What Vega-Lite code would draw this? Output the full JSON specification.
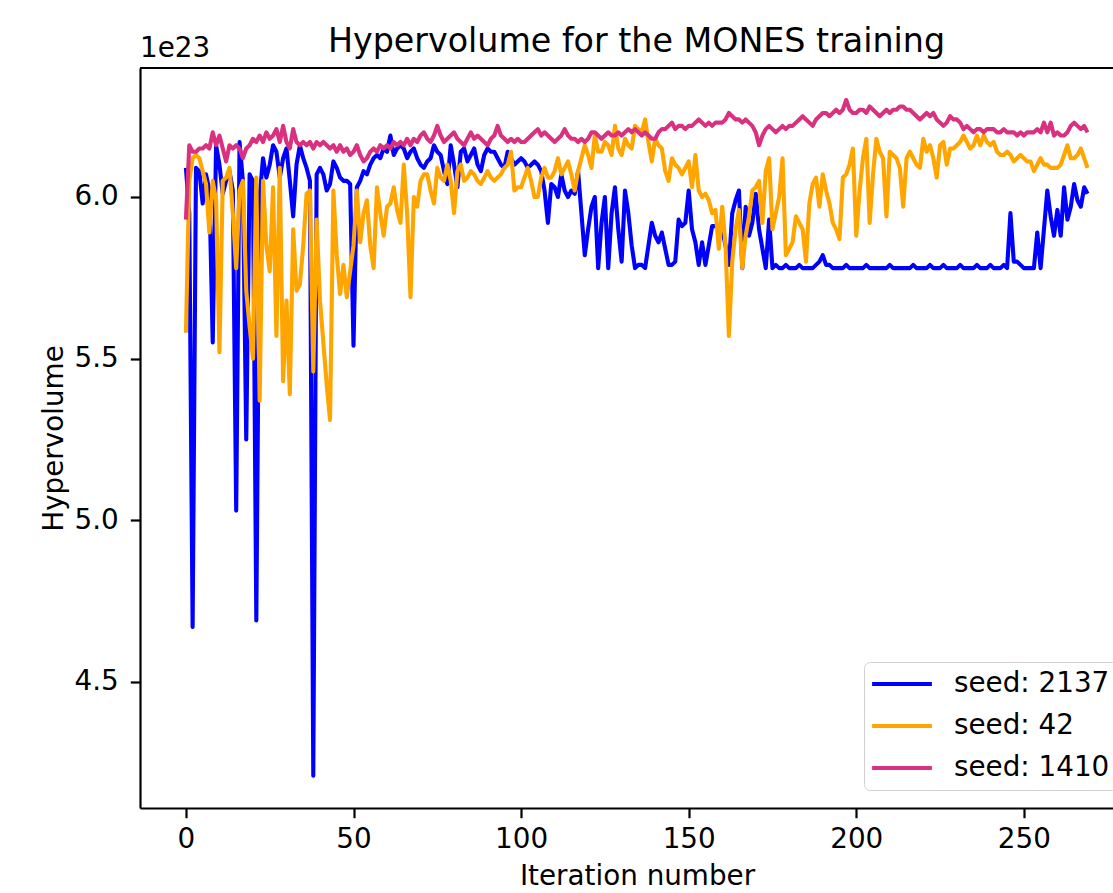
{
"$schema": "https://vega.github.io/schema/vega-lite/v6.json",
"width": 973, "height": 740,
"autosize": {"type": "none"},
"padding": {"left": 140, "top": 68, "right": 0, "bottom": 85},
"background": "white",
"config": {"view": {"stroke": null}, "font": "DejaVu Sans"},
"title": {"text": "Hypervolume for the MONES training", "font": "DejaVu Sans", "fontSize": 33.3, "fontWeight": "normal", "color": "black", "anchor": "middle", "frame": "group", "dx": 10, "dy": 66, "offset": 16, "baseline": "alphabetic"},
"datasets": {
"s2137": [{"iter":0,"hv":6.09},{"iter":1,"hv":5.95},{"iter":2,"hv":4.67},{"iter":3,"hv":6.09},{"iter":4,"hv":6.08},{"iter":5,"hv":5.98},{"iter":6,"hv":6.07},{"iter":7,"hv":6.02},{"iter":8,"hv":5.55},{"iter":9,"hv":6.16},{"iter":10,"hv":6.10},{"iter":11,"hv":6.01},{"iter":12,"hv":6.05},{"iter":13,"hv":6.08},{"iter":14,"hv":6.02},{"iter":15,"hv":5.03},{"iter":16,"hv":6.17},{"iter":17,"hv":6.05},{"iter":18,"hv":5.25},{"iter":19,"hv":6.07},{"iter":20,"hv":6.05},{"iter":21,"hv":4.69},{"iter":22,"hv":6.00},{"iter":23,"hv":6.12},{"iter":24,"hv":6.06},{"iter":25,"hv":6.10},{"iter":26,"hv":6.16},{"iter":27,"hv":6.14},{"iter":28,"hv":6.06},{"iter":29,"hv":6.12},{"iter":30,"hv":6.15},{"iter":31,"hv":6.05},{"iter":32,"hv":5.94},{"iter":33,"hv":6.10},{"iter":34,"hv":6.16},{"iter":35,"hv":6.12},{"iter":36,"hv":6.09},{"iter":37,"hv":6.05},{"iter":38,"hv":4.21},{"iter":39,"hv":6.07},{"iter":40,"hv":6.09},{"iter":41,"hv":6.07},{"iter":42,"hv":6.02},{"iter":43,"hv":6.04},{"iter":44,"hv":6.11},{"iter":45,"hv":6.09},{"iter":46,"hv":6.06},{"iter":47,"hv":6.05},{"iter":48,"hv":6.05},{"iter":49,"hv":6.04},{"iter":50,"hv":5.54},{"iter":51,"hv":6.03},{"iter":52,"hv":6.05},{"iter":53,"hv":6.08},{"iter":54,"hv":6.07},{"iter":55,"hv":6.10},{"iter":56,"hv":6.12},{"iter":57,"hv":6.13},{"iter":58,"hv":6.12},{"iter":59,"hv":6.15},{"iter":60,"hv":6.14},{"iter":61,"hv":6.19},{"iter":62,"hv":6.13},{"iter":63,"hv":6.15},{"iter":64,"hv":6.16},{"iter":65,"hv":6.15},{"iter":66,"hv":6.12},{"iter":67,"hv":6.14},{"iter":68,"hv":6.15},{"iter":69,"hv":6.12},{"iter":70,"hv":6.10},{"iter":71,"hv":6.09},{"iter":72,"hv":6.11},{"iter":73,"hv":6.12},{"iter":74,"hv":6.16},{"iter":75,"hv":6.14},{"iter":76,"hv":6.13},{"iter":77,"hv":6.08},{"iter":78,"hv":6.04},{"iter":79,"hv":6.16},{"iter":80,"hv":6.10},{"iter":81,"hv":6.03},{"iter":82,"hv":6.14},{"iter":83,"hv":6.15},{"iter":84,"hv":6.11},{"iter":85,"hv":6.13},{"iter":86,"hv":6.15},{"iter":87,"hv":6.10},{"iter":88,"hv":6.08},{"iter":89,"hv":6.13},{"iter":90,"hv":6.15},{"iter":91,"hv":6.14},{"iter":92,"hv":6.14},{"iter":93,"hv":6.12},{"iter":94,"hv":6.10},{"iter":95,"hv":6.09},{"iter":96,"hv":6.14},{"iter":97,"hv":6.12},{"iter":98,"hv":6.10},{"iter":99,"hv":6.11},{"iter":100,"hv":6.12},{"iter":101,"hv":6.11},{"iter":102,"hv":6.09},{"iter":103,"hv":6.10},{"iter":104,"hv":6.11},{"iter":105,"hv":6.10},{"iter":106,"hv":6.08},{"iter":107,"hv":6.02},{"iter":108,"hv":5.92},{"iter":109,"hv":6.04},{"iter":110,"hv":6.03},{"iter":111,"hv":6.00},{"iter":112,"hv":6.07},{"iter":113,"hv":6.02},{"iter":114,"hv":6.00},{"iter":115,"hv":6.02},{"iter":116,"hv":6.01},{"iter":117,"hv":6.08},{"iter":118,"hv":5.95},{"iter":119,"hv":5.82},{"iter":120,"hv":5.90},{"iter":121,"hv":5.97},{"iter":122,"hv":6.00},{"iter":123,"hv":5.78},{"iter":124,"hv":5.92},{"iter":125,"hv":6.00},{"iter":126,"hv":5.78},{"iter":127,"hv":5.95},{"iter":128,"hv":6.03},{"iter":129,"hv":5.90},{"iter":130,"hv":5.80},{"iter":131,"hv":6.02},{"iter":132,"hv":5.95},{"iter":133,"hv":5.85},{"iter":134,"hv":5.78},{"iter":135,"hv":5.79},{"iter":136,"hv":5.79},{"iter":137,"hv":5.78},{"iter":138,"hv":5.85},{"iter":139,"hv":5.92},{"iter":140,"hv":5.88},{"iter":141,"hv":5.86},{"iter":142,"hv":5.89},{"iter":143,"hv":5.84},{"iter":144,"hv":5.79},{"iter":145,"hv":5.79},{"iter":146,"hv":5.80},{"iter":147,"hv":5.93},{"iter":148,"hv":5.91},{"iter":149,"hv":5.92},{"iter":150,"hv":6.02},{"iter":151,"hv":5.90},{"iter":152,"hv":5.86},{"iter":153,"hv":5.79},{"iter":154,"hv":5.86},{"iter":155,"hv":5.79},{"iter":156,"hv":5.85},{"iter":157,"hv":5.91},{"iter":158,"hv":5.91},{"iter":159,"hv":5.91},{"iter":160,"hv":5.90},{"iter":161,"hv":5.85},{"iter":162,"hv":5.79},{"iter":163,"hv":5.95},{"iter":164,"hv":5.99},{"iter":165,"hv":6.02},{"iter":166,"hv":5.78},{"iter":167,"hv":5.97},{"iter":168,"hv":5.88},{"iter":169,"hv":5.92},{"iter":170,"hv":6.01},{"iter":171,"hv":5.90},{"iter":172,"hv":5.84},{"iter":173,"hv":5.78},{"iter":174,"hv":5.93},{"iter":175,"hv":5.78},{"iter":176,"hv":5.79},{"iter":177,"hv":5.78},{"iter":178,"hv":5.78},{"iter":179,"hv":5.79},{"iter":180,"hv":5.78},{"iter":181,"hv":5.78},{"iter":182,"hv":5.78},{"iter":183,"hv":5.79},{"iter":184,"hv":5.78},{"iter":185,"hv":5.78},{"iter":186,"hv":5.78},{"iter":187,"hv":5.78},{"iter":188,"hv":5.79},{"iter":189,"hv":5.80},{"iter":190,"hv":5.82},{"iter":191,"hv":5.79},{"iter":192,"hv":5.79},{"iter":193,"hv":5.78},{"iter":194,"hv":5.78},{"iter":195,"hv":5.78},{"iter":196,"hv":5.78},{"iter":197,"hv":5.79},{"iter":198,"hv":5.78},{"iter":199,"hv":5.78},{"iter":200,"hv":5.78},{"iter":201,"hv":5.78},{"iter":202,"hv":5.78},{"iter":203,"hv":5.79},{"iter":204,"hv":5.78},{"iter":205,"hv":5.78},{"iter":206,"hv":5.78},{"iter":207,"hv":5.78},{"iter":208,"hv":5.78},{"iter":209,"hv":5.78},{"iter":210,"hv":5.79},{"iter":211,"hv":5.78},{"iter":212,"hv":5.78},{"iter":213,"hv":5.78},{"iter":214,"hv":5.78},{"iter":215,"hv":5.78},{"iter":216,"hv":5.78},{"iter":217,"hv":5.79},{"iter":218,"hv":5.78},{"iter":219,"hv":5.78},{"iter":220,"hv":5.78},{"iter":221,"hv":5.78},{"iter":222,"hv":5.79},{"iter":223,"hv":5.78},{"iter":224,"hv":5.78},{"iter":225,"hv":5.78},{"iter":226,"hv":5.79},{"iter":227,"hv":5.78},{"iter":228,"hv":5.78},{"iter":229,"hv":5.78},{"iter":230,"hv":5.78},{"iter":231,"hv":5.79},{"iter":232,"hv":5.78},{"iter":233,"hv":5.78},{"iter":234,"hv":5.78},{"iter":235,"hv":5.78},{"iter":236,"hv":5.79},{"iter":237,"hv":5.78},{"iter":238,"hv":5.78},{"iter":239,"hv":5.78},{"iter":240,"hv":5.79},{"iter":241,"hv":5.78},{"iter":242,"hv":5.78},{"iter":243,"hv":5.78},{"iter":244,"hv":5.79},{"iter":245,"hv":5.78},{"iter":246,"hv":5.95},{"iter":247,"hv":5.80},{"iter":248,"hv":5.80},{"iter":249,"hv":5.79},{"iter":250,"hv":5.78},{"iter":251,"hv":5.78},{"iter":252,"hv":5.78},{"iter":253,"hv":5.78},{"iter":254,"hv":5.89},{"iter":255,"hv":5.78},{"iter":256,"hv":5.90},{"iter":257,"hv":6.02},{"iter":258,"hv":5.94},{"iter":259,"hv":5.88},{"iter":260,"hv":5.96},{"iter":261,"hv":5.88},{"iter":262,"hv":6.03},{"iter":263,"hv":5.93},{"iter":264,"hv":5.97},{"iter":265,"hv":6.04},{"iter":266,"hv":5.99},{"iter":267,"hv":5.97},{"iter":268,"hv":6.03},{"iter":269,"hv":6.01}],
"s42": [{"iter":0,"hv":5.58},{"iter":1,"hv":6.05},{"iter":2,"hv":6.12},{"iter":3,"hv":6.13},{"iter":4,"hv":6.12},{"iter":5,"hv":6.08},{"iter":6,"hv":6.04},{"iter":7,"hv":5.89},{"iter":8,"hv":6.05},{"iter":9,"hv":5.99},{"iter":10,"hv":5.52},{"iter":11,"hv":6.05},{"iter":12,"hv":6.06},{"iter":13,"hv":6.09},{"iter":14,"hv":5.95},{"iter":15,"hv":5.78},{"iter":16,"hv":6.02},{"iter":17,"hv":6.05},{"iter":18,"hv":5.71},{"iter":19,"hv":5.60},{"iter":20,"hv":5.50},{"iter":21,"hv":6.06},{"iter":22,"hv":5.37},{"iter":23,"hv":6.05},{"iter":24,"hv":5.85},{"iter":25,"hv":5.77},{"iter":26,"hv":6.03},{"iter":27,"hv":5.57},{"iter":28,"hv":6.09},{"iter":29,"hv":5.43},{"iter":30,"hv":5.68},{"iter":31,"hv":5.39},{"iter":32,"hv":5.90},{"iter":33,"hv":5.71},{"iter":34,"hv":5.73},{"iter":35,"hv":5.85},{"iter":36,"hv":6.01},{"iter":37,"hv":6.02},{"iter":38,"hv":5.46},{"iter":39,"hv":5.93},{"iter":40,"hv":5.68},{"iter":41,"hv":5.55},{"iter":42,"hv":5.42},{"iter":43,"hv":5.31},{"iter":44,"hv":6.02},{"iter":45,"hv":5.82},{"iter":46,"hv":5.70},{"iter":47,"hv":5.79},{"iter":48,"hv":5.69},{"iter":49,"hv":5.77},{"iter":50,"hv":5.85},{"iter":51,"hv":6.02},{"iter":52,"hv":5.86},{"iter":53,"hv":5.95},{"iter":54,"hv":5.99},{"iter":55,"hv":5.85},{"iter":56,"hv":5.78},{"iter":57,"hv":6.03},{"iter":58,"hv":5.95},{"iter":59,"hv":5.88},{"iter":60,"hv":5.97},{"iter":61,"hv":5.98},{"iter":62,"hv":6.03},{"iter":63,"hv":5.96},{"iter":64,"hv":5.92},{"iter":65,"hv":6.10},{"iter":66,"hv":5.95},{"iter":67,"hv":5.69},{"iter":68,"hv":6.00},{"iter":69,"hv":5.97},{"iter":70,"hv":6.05},{"iter":71,"hv":6.07},{"iter":72,"hv":6.07},{"iter":73,"hv":6.02},{"iter":74,"hv":5.98},{"iter":75,"hv":6.09},{"iter":76,"hv":6.06},{"iter":77,"hv":6.05},{"iter":78,"hv":6.10},{"iter":79,"hv":6.05},{"iter":80,"hv":5.95},{"iter":81,"hv":6.08},{"iter":82,"hv":6.10},{"iter":83,"hv":6.05},{"iter":84,"hv":6.06},{"iter":85,"hv":6.08},{"iter":86,"hv":6.07},{"iter":87,"hv":6.05},{"iter":88,"hv":6.04},{"iter":89,"hv":6.06},{"iter":90,"hv":6.08},{"iter":91,"hv":6.06},{"iter":92,"hv":6.05},{"iter":93,"hv":6.06},{"iter":94,"hv":6.07},{"iter":95,"hv":6.09},{"iter":96,"hv":6.10},{"iter":97,"hv":6.14},{"iter":98,"hv":6.02},{"iter":99,"hv":6.03},{"iter":100,"hv":6.03},{"iter":101,"hv":6.06},{"iter":102,"hv":6.09},{"iter":103,"hv":6.05},{"iter":104,"hv":6.00},{"iter":105,"hv":6.00},{"iter":106,"hv":6.06},{"iter":107,"hv":6.09},{"iter":108,"hv":6.06},{"iter":109,"hv":6.06},{"iter":110,"hv":6.08},{"iter":111,"hv":6.12},{"iter":112,"hv":6.07},{"iter":113,"hv":6.09},{"iter":114,"hv":6.11},{"iter":115,"hv":6.07},{"iter":116,"hv":6.02},{"iter":117,"hv":6.08},{"iter":118,"hv":6.12},{"iter":119,"hv":6.16},{"iter":120,"hv":6.13},{"iter":121,"hv":6.09},{"iter":122,"hv":6.19},{"iter":123,"hv":6.14},{"iter":124,"hv":6.14},{"iter":125,"hv":6.17},{"iter":126,"hv":6.16},{"iter":127,"hv":6.13},{"iter":128,"hv":6.22},{"iter":129,"hv":6.15},{"iter":130,"hv":6.13},{"iter":131,"hv":6.18},{"iter":132,"hv":6.16},{"iter":133,"hv":6.15},{"iter":134,"hv":6.22},{"iter":135,"hv":6.21},{"iter":136,"hv":6.20},{"iter":137,"hv":6.24},{"iter":138,"hv":6.17},{"iter":139,"hv":6.11},{"iter":140,"hv":6.18},{"iter":141,"hv":6.16},{"iter":142,"hv":6.15},{"iter":143,"hv":6.08},{"iter":144,"hv":6.05},{"iter":145,"hv":6.12},{"iter":146,"hv":6.10},{"iter":147,"hv":6.09},{"iter":148,"hv":6.07},{"iter":149,"hv":6.09},{"iter":150,"hv":6.11},{"iter":151,"hv":6.03},{"iter":152,"hv":6.13},{"iter":153,"hv":6.02},{"iter":154,"hv":6.00},{"iter":155,"hv":6.01},{"iter":156,"hv":5.99},{"iter":157,"hv":5.95},{"iter":158,"hv":5.96},{"iter":159,"hv":5.84},{"iter":160,"hv":5.97},{"iter":161,"hv":5.85},{"iter":162,"hv":5.57},{"iter":163,"hv":5.80},{"iter":164,"hv":5.90},{"iter":165,"hv":5.96},{"iter":166,"hv":5.78},{"iter":167,"hv":5.88},{"iter":168,"hv":5.94},{"iter":169,"hv":6.02},{"iter":170,"hv":6.03},{"iter":171,"hv":6.05},{"iter":172,"hv":5.92},{"iter":173,"hv":6.08},{"iter":174,"hv":6.12},{"iter":175,"hv":5.90},{"iter":176,"hv":5.95},{"iter":177,"hv":6.00},{"iter":178,"hv":6.12},{"iter":179,"hv":5.82},{"iter":180,"hv":5.84},{"iter":181,"hv":5.86},{"iter":182,"hv":5.94},{"iter":183,"hv":5.92},{"iter":184,"hv":5.90},{"iter":185,"hv":5.80},{"iter":186,"hv":5.98},{"iter":187,"hv":6.04},{"iter":188,"hv":6.06},{"iter":189,"hv":5.97},{"iter":190,"hv":6.07},{"iter":191,"hv":6.02},{"iter":192,"hv":5.98},{"iter":193,"hv":5.92},{"iter":194,"hv":5.90},{"iter":195,"hv":5.87},{"iter":196,"hv":6.06},{"iter":197,"hv":6.07},{"iter":198,"hv":6.10},{"iter":199,"hv":6.15},{"iter":200,"hv":5.88},{"iter":201,"hv":6.02},{"iter":202,"hv":6.12},{"iter":203,"hv":6.18},{"iter":204,"hv":5.92},{"iter":205,"hv":6.07},{"iter":206,"hv":6.18},{"iter":207,"hv":6.14},{"iter":208,"hv":6.12},{"iter":209,"hv":5.94},{"iter":210,"hv":6.14},{"iter":211,"hv":6.13},{"iter":212,"hv":6.12},{"iter":213,"hv":6.09},{"iter":214,"hv":5.97},{"iter":215,"hv":6.12},{"iter":216,"hv":6.14},{"iter":217,"hv":6.12},{"iter":218,"hv":6.10},{"iter":219,"hv":6.09},{"iter":220,"hv":6.18},{"iter":221,"hv":6.14},{"iter":222,"hv":6.16},{"iter":223,"hv":6.12},{"iter":224,"hv":6.06},{"iter":225,"hv":6.16},{"iter":226,"hv":6.17},{"iter":227,"hv":6.10},{"iter":228,"hv":6.15},{"iter":229,"hv":6.15},{"iter":230,"hv":6.16},{"iter":231,"hv":6.17},{"iter":232,"hv":6.19},{"iter":233,"hv":6.17},{"iter":234,"hv":6.15},{"iter":235,"hv":6.16},{"iter":236,"hv":6.19},{"iter":237,"hv":6.16},{"iter":238,"hv":6.19},{"iter":239,"hv":6.17},{"iter":240,"hv":6.16},{"iter":241,"hv":6.17},{"iter":242,"hv":6.14},{"iter":243,"hv":6.13},{"iter":244,"hv":6.13},{"iter":245,"hv":6.14},{"iter":246,"hv":6.13},{"iter":247,"hv":6.11},{"iter":248,"hv":6.12},{"iter":249,"hv":6.13},{"iter":250,"hv":6.12},{"iter":251,"hv":6.11},{"iter":252,"hv":6.11},{"iter":253,"hv":6.08},{"iter":254,"hv":6.10},{"iter":255,"hv":6.12},{"iter":256,"hv":6.10},{"iter":257,"hv":6.10},{"iter":258,"hv":6.09},{"iter":259,"hv":6.09},{"iter":260,"hv":6.09},{"iter":261,"hv":6.10},{"iter":262,"hv":6.13},{"iter":263,"hv":6.16},{"iter":264,"hv":6.12},{"iter":265,"hv":6.12},{"iter":266,"hv":6.13},{"iter":267,"hv":6.15},{"iter":268,"hv":6.12},{"iter":269,"hv":6.09}],
"s1410": [{"iter":0,"hv":5.93},{"iter":1,"hv":6.16},{"iter":2,"hv":6.14},{"iter":3,"hv":6.14},{"iter":4,"hv":6.15},{"iter":5,"hv":6.15},{"iter":6,"hv":6.16},{"iter":7,"hv":6.15},{"iter":8,"hv":6.20},{"iter":9,"hv":6.16},{"iter":10,"hv":6.19},{"iter":11,"hv":6.15},{"iter":12,"hv":6.11},{"iter":13,"hv":6.16},{"iter":14,"hv":6.15},{"iter":15,"hv":6.16},{"iter":16,"hv":6.15},{"iter":17,"hv":6.12},{"iter":18,"hv":6.15},{"iter":19,"hv":6.16},{"iter":20,"hv":6.18},{"iter":21,"hv":6.17},{"iter":22,"hv":6.19},{"iter":23,"hv":6.17},{"iter":24,"hv":6.20},{"iter":25,"hv":6.18},{"iter":26,"hv":6.19},{"iter":27,"hv":6.21},{"iter":28,"hv":6.17},{"iter":29,"hv":6.22},{"iter":30,"hv":6.17},{"iter":31,"hv":6.15},{"iter":32,"hv":6.21},{"iter":33,"hv":6.17},{"iter":34,"hv":6.16},{"iter":35,"hv":6.17},{"iter":36,"hv":6.16},{"iter":37,"hv":6.17},{"iter":38,"hv":6.15},{"iter":39,"hv":6.17},{"iter":40,"hv":6.16},{"iter":41,"hv":6.17},{"iter":42,"hv":6.16},{"iter":43,"hv":6.15},{"iter":44,"hv":6.16},{"iter":45,"hv":6.14},{"iter":46,"hv":6.16},{"iter":47,"hv":6.14},{"iter":48,"hv":6.15},{"iter":49,"hv":6.13},{"iter":50,"hv":6.14},{"iter":51,"hv":6.16},{"iter":52,"hv":6.13},{"iter":53,"hv":6.11},{"iter":54,"hv":6.12},{"iter":55,"hv":6.14},{"iter":56,"hv":6.15},{"iter":57,"hv":6.14},{"iter":58,"hv":6.16},{"iter":59,"hv":6.15},{"iter":60,"hv":6.16},{"iter":61,"hv":6.15},{"iter":62,"hv":6.17},{"iter":63,"hv":6.16},{"iter":64,"hv":6.17},{"iter":65,"hv":6.16},{"iter":66,"hv":6.18},{"iter":67,"hv":6.16},{"iter":68,"hv":6.18},{"iter":69,"hv":6.17},{"iter":70,"hv":6.19},{"iter":71,"hv":6.20},{"iter":72,"hv":6.18},{"iter":73,"hv":6.17},{"iter":74,"hv":6.19},{"iter":75,"hv":6.22},{"iter":76,"hv":6.19},{"iter":77,"hv":6.17},{"iter":78,"hv":6.18},{"iter":79,"hv":6.19},{"iter":80,"hv":6.20},{"iter":81,"hv":6.18},{"iter":82,"hv":6.17},{"iter":83,"hv":6.16},{"iter":84,"hv":6.18},{"iter":85,"hv":6.20},{"iter":86,"hv":6.18},{"iter":87,"hv":6.19},{"iter":88,"hv":6.18},{"iter":89,"hv":6.17},{"iter":90,"hv":6.16},{"iter":91,"hv":6.18},{"iter":92,"hv":6.19},{"iter":93,"hv":6.22},{"iter":94,"hv":6.19},{"iter":95,"hv":6.18},{"iter":96,"hv":6.17},{"iter":97,"hv":6.18},{"iter":98,"hv":6.17},{"iter":99,"hv":6.18},{"iter":100,"hv":6.17},{"iter":101,"hv":6.17},{"iter":102,"hv":6.18},{"iter":103,"hv":6.19},{"iter":104,"hv":6.20},{"iter":105,"hv":6.21},{"iter":106,"hv":6.19},{"iter":107,"hv":6.20},{"iter":108,"hv":6.19},{"iter":109,"hv":6.18},{"iter":110,"hv":6.17},{"iter":111,"hv":6.18},{"iter":112,"hv":6.19},{"iter":113,"hv":6.21},{"iter":114,"hv":6.19},{"iter":115,"hv":6.18},{"iter":116,"hv":6.18},{"iter":117,"hv":6.17},{"iter":118,"hv":6.18},{"iter":119,"hv":6.17},{"iter":120,"hv":6.18},{"iter":121,"hv":6.20},{"iter":122,"hv":6.20},{"iter":123,"hv":6.19},{"iter":124,"hv":6.18},{"iter":125,"hv":6.19},{"iter":126,"hv":6.20},{"iter":127,"hv":6.19},{"iter":128,"hv":6.19},{"iter":129,"hv":6.20},{"iter":130,"hv":6.19},{"iter":131,"hv":6.20},{"iter":132,"hv":6.21},{"iter":133,"hv":6.20},{"iter":134,"hv":6.21},{"iter":135,"hv":6.20},{"iter":136,"hv":6.19},{"iter":137,"hv":6.20},{"iter":138,"hv":6.19},{"iter":139,"hv":6.18},{"iter":140,"hv":6.18},{"iter":141,"hv":6.20},{"iter":142,"hv":6.21},{"iter":143,"hv":6.21},{"iter":144,"hv":6.22},{"iter":145,"hv":6.23},{"iter":146,"hv":6.21},{"iter":147,"hv":6.22},{"iter":148,"hv":6.22},{"iter":149,"hv":6.21},{"iter":150,"hv":6.22},{"iter":151,"hv":6.22},{"iter":152,"hv":6.23},{"iter":153,"hv":6.24},{"iter":154,"hv":6.23},{"iter":155,"hv":6.22},{"iter":156,"hv":6.23},{"iter":157,"hv":6.22},{"iter":158,"hv":6.23},{"iter":159,"hv":6.23},{"iter":160,"hv":6.23},{"iter":161,"hv":6.24},{"iter":162,"hv":6.26},{"iter":163,"hv":6.25},{"iter":164,"hv":6.24},{"iter":165,"hv":6.24},{"iter":166,"hv":6.23},{"iter":167,"hv":6.24},{"iter":168,"hv":6.23},{"iter":169,"hv":6.22},{"iter":170,"hv":6.20},{"iter":171,"hv":6.16},{"iter":172,"hv":6.19},{"iter":173,"hv":6.21},{"iter":174,"hv":6.22},{"iter":175,"hv":6.21},{"iter":176,"hv":6.20},{"iter":177,"hv":6.21},{"iter":178,"hv":6.22},{"iter":179,"hv":6.21},{"iter":180,"hv":6.22},{"iter":181,"hv":6.22},{"iter":182,"hv":6.23},{"iter":183,"hv":6.24},{"iter":184,"hv":6.25},{"iter":185,"hv":6.24},{"iter":186,"hv":6.23},{"iter":187,"hv":6.22},{"iter":188,"hv":6.24},{"iter":189,"hv":6.25},{"iter":190,"hv":6.26},{"iter":191,"hv":6.26},{"iter":192,"hv":6.25},{"iter":193,"hv":6.26},{"iter":194,"hv":6.27},{"iter":195,"hv":6.26},{"iter":196,"hv":6.27},{"iter":197,"hv":6.30},{"iter":198,"hv":6.27},{"iter":199,"hv":6.26},{"iter":200,"hv":6.26},{"iter":201,"hv":6.27},{"iter":202,"hv":6.27},{"iter":203,"hv":6.26},{"iter":204,"hv":6.28},{"iter":205,"hv":6.27},{"iter":206,"hv":6.26},{"iter":207,"hv":6.25},{"iter":208,"hv":6.26},{"iter":209,"hv":6.27},{"iter":210,"hv":6.26},{"iter":211,"hv":6.27},{"iter":212,"hv":6.27},{"iter":213,"hv":6.28},{"iter":214,"hv":6.28},{"iter":215,"hv":6.27},{"iter":216,"hv":6.27},{"iter":217,"hv":6.26},{"iter":218,"hv":6.25},{"iter":219,"hv":6.24},{"iter":220,"hv":6.25},{"iter":221,"hv":6.26},{"iter":222,"hv":6.25},{"iter":223,"hv":6.26},{"iter":224,"hv":6.24},{"iter":225,"hv":6.23},{"iter":226,"hv":6.22},{"iter":227,"hv":6.23},{"iter":228,"hv":6.25},{"iter":229,"hv":6.24},{"iter":230,"hv":6.24},{"iter":231,"hv":6.23},{"iter":232,"hv":6.21},{"iter":233,"hv":6.22},{"iter":234,"hv":6.21},{"iter":235,"hv":6.20},{"iter":236,"hv":6.21},{"iter":237,"hv":6.21},{"iter":238,"hv":6.20},{"iter":239,"hv":6.21},{"iter":240,"hv":6.21},{"iter":241,"hv":6.21},{"iter":242,"hv":6.20},{"iter":243,"hv":6.20},{"iter":244,"hv":6.21},{"iter":245,"hv":6.20},{"iter":246,"hv":6.20},{"iter":247,"hv":6.20},{"iter":248,"hv":6.19},{"iter":249,"hv":6.20},{"iter":250,"hv":6.19},{"iter":251,"hv":6.20},{"iter":252,"hv":6.20},{"iter":253,"hv":6.20},{"iter":254,"hv":6.21},{"iter":255,"hv":6.20},{"iter":256,"hv":6.23},{"iter":257,"hv":6.20},{"iter":258,"hv":6.23},{"iter":259,"hv":6.19},{"iter":260,"hv":6.20},{"iter":261,"hv":6.19},{"iter":262,"hv":6.19},{"iter":263,"hv":6.20},{"iter":264,"hv":6.22},{"iter":265,"hv":6.23},{"iter":266,"hv":6.22},{"iter":267,"hv":6.21},{"iter":268,"hv":6.22},{"iter":269,"hv":6.20}]
},
"layer": [
{"data": {"name": "s2137"},
 "mark": {"type": "line", "strokeWidth": 4.1, "strokeJoin": "round", "clip": true},
 "encoding": {
  "x": {"field": "iter", "type": "quantitative", "scale": {"domain": [-13.7, 276.6], "nice": false, "zero": false},
   "axis": {"values": [0, 50, 100, 150, 200, 250], "title": "Iteration number", "grid": false, "tickSize": 9.7, "tickWidth": 2.2, "tickColor": "black", "domainColor": "black", "domainWidth": 2.2, "labelFontSize": 27.8, "labelColor": "black", "labelPadding": 8, "labelFlush": false, "titleFontSize": 27.8, "titleFontWeight": "normal", "titleColor": "black", "titlePadding": 9, "titleX": 497}},
  "y": {"field": "hv", "type": "quantitative", "scale": {"domain": [4.11, 6.399], "nice": false, "zero": false},
   "axis": {"values": [4.5, 5.0, 5.5, 6.0], "format": ".1f", "title": "Hypervolume", "grid": false, "tickSize": 9.7, "tickWidth": 2.2, "tickColor": "black", "domainColor": "black", "domainWidth": 2.2, "labelFontSize": 27.8, "labelColor": "black", "labelPadding": 12, "labelFlush": false, "titleFontSize": 27.8, "titleFontWeight": "normal", "titleColor": "black", "titlePadding": 6}},
  "color": {"datum": "seed: 2137", "type": "nominal",
   "scale": {"domain": ["seed: 2137", "seed: 42", "seed: 1410"], "range": ["#0000ff", "#ffa500", "#d93080"]},
   "legend": {"title": null, "orient": "none", "legendX": 724, "legendY": 594, "fillColor": "white", "strokeColor": "#d0d0d0", "cornerRadius": 6, "padding": 8, "symbolType": "M-2.6,0H2.6", "symbolSize": 529, "symbolStrokeWidth": 4.1, "symbolOffset": 16, "labelOffset": 38, "labelFontSize": 27.8, "labelColor": "black", "labelLimit": 400, "rowPadding": 14}}
 }},
{"data": {"name": "s42"},
 "mark": {"type": "line", "strokeWidth": 4.1, "strokeJoin": "round", "clip": true},
 "encoding": {"x": {"field": "iter", "type": "quantitative"}, "y": {"field": "hv", "type": "quantitative"}, "color": {"datum": "seed: 42", "type": "nominal"}}},
{"data": {"name": "s1410"},
 "mark": {"type": "line", "strokeWidth": 4.1, "strokeJoin": "round", "clip": true},
 "encoding": {"x": {"field": "iter", "type": "quantitative"}, "y": {"field": "hv", "type": "quantitative"}, "color": {"datum": "seed: 1410", "type": "nominal"}}},
{"data": {"values": [{"t": "1e23"}]},
 "mark": {"type": "text", "align": "left", "baseline": "alphabetic", "dy": -11, "fontSize": 27.8, "font": "DejaVu Sans", "color": "black"},
 "encoding": {"x": {"datum": -13.7}, "y": {"datum": 6.399}, "text": {"field": "t"}}},
{"data": {"values": [{}]},
 "mark": {"type": "rule", "color": "black", "strokeWidth": 2.2},
 "encoding": {"y": {"datum": 6.399}}}
]
}
